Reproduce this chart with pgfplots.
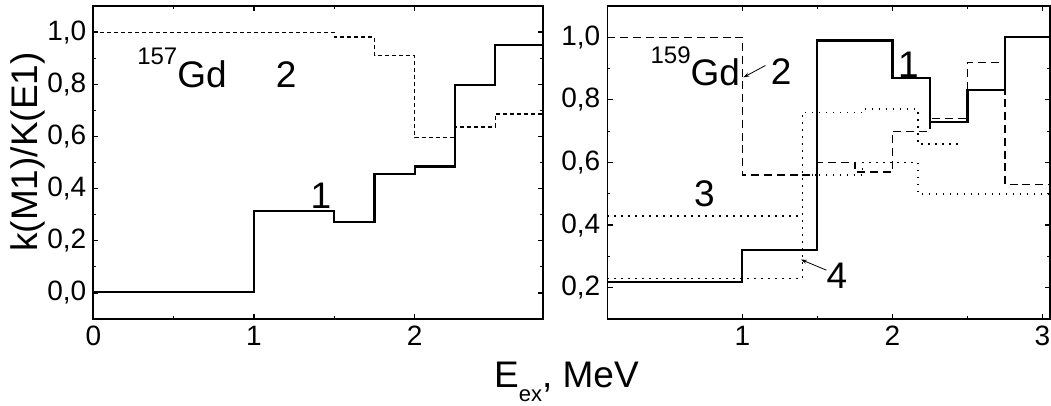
\documentclass[border=0pt]{standalone}
\usepackage{fontspec}
\setmainfont{Liberation Sans}
\usepackage{pgfplots}
\pgfplotsset{compat=1.18}
\usetikzlibrary{arrows.meta}

\newcommand{\tickfont}{\fontsize{14}{16}\selectfont}
\newcommand{\bigfont}{\fontsize{18.5}{21}\selectfont}

\pgfplotsset{
  gdpanel/.style={
    scale only axis,
    height=156.5pt,
    axis line style={line width=0.8pt},
    tick style={line width=0.6pt, black},
    major tick length=2.6pt,
    minor tick length=1.5pt,
    tick align=inside,
    minor x tick num=1,
    minor y tick num=1,
    ticklabel style={font=\tickfont},
    /pgf/number format/assume math mode=true,
    yticklabel style={/pgf/number format/.cd, fixed, fixed zerofill, precision=1, use comma},
    xticklabel style={/pgf/number format/.cd, fixed, precision=0},
  },
  solidstep/.style={const plot, black, line width=1.1pt},
}

\begin{document}
\begin{tikzpicture}
\path[use as bounding box] (-46.65pt,-43.5pt) rectangle (478.85pt,159.5pt);

% 157Gd
\begin{axis}[gdpanel,
    width=225pt,
    xmin=0, xmax=2.8,
    ymin=-0.1, ymax=1.1,
    xtick={0,1,2},
    ytick={0,0.2,0.4,0.6,0.8,1.0},
]
\addplot[solidstep] coordinates {
  (0,0.005) (1,0.313) (1.5,0.272) (1.75,0.455) (2,0.485) (2.25,0.798) (2.5,0.951) (2.8,0.951)
};
\addplot[const plot, black, line width=0.55pt, dash pattern=on 2pt off 1.5pt] coordinates {
  (0,1.0) (1.5,0.981) (1.75,0.909) (2,0.595) (2.25,0.636) (2.5,0.686) (2.8,0.686)
};
\node[anchor=base west, font=\bigfont, inner sep=0pt] at (axis cs:0.271,0.789)
  {\raisebox{0.6em}{\fontsize{12}{13}\selectfont 157}Gd};
\node[anchor=base, font=\bigfont, inner sep=0pt] at (axis cs:1.20,0.789) {2};
\node[anchor=base, font=\bigfont, inner sep=0pt] at (axis cs:1.417,0.323) {1};
\end{axis}

% 159Gd
\begin{axis}[gdpanel,
    at={(257pt,0pt)}, anchor=south west,
    width=221.35pt,
    xmin=0.1, xmax=3.05,
    ymin=0.1, ymax=1.1,
    xtick={1,2,3},
    ytick={0.2,0.4,0.6,0.8,1.0},
]
\addplot[solidstep] coordinates {
  (0.1,0.218) (1,0.32) (1.5,0.99) (2,0.87) (2.25,0.73) (2.5,0.831) (2.75,1.0) (3.05,1.0)
};
\addplot[const plot, black, line width=0.65pt, dash pattern=on 4pt off 2.4pt] coordinates {
  (0.1,1.0) (1,0.56) (1.5,0.60) (1.75,0.57) (2,0.70) (2.25,0.74) (2.5,0.92) (2.75,0.53) (3.05,0.53)
};
\addplot[const plot, black, line width=0.8pt, dash pattern=on 0.7pt off 2.8pt] coordinates {
  (0.1,0.43) (1.4,0.76) (1.8,0.77) (2.17,0.66) (2.45,0.66)
};
\addplot[const plot, black, line width=0.8pt, dash pattern=on 0.7pt off 2.8pt] coordinates {
  (0.1,0.229) (1.4,0.56) (1.8,0.60) (2.17,0.50) (3.05,0.50)
};
\node[anchor=base west, font=\bigfont, inner sep=0pt] at (axis cs:0.386,0.845)
  {\raisebox{0.6em}{\fontsize{12}{13}\selectfont 159}Gd};
\node[anchor=base west, font=\bigfont, inner sep=0pt] at (axis cs:1.187,0.848) {2};
\draw[-{Stealth[length=3pt,width=2pt]}, line width=0.4pt] (axis cs:1.154,0.910) -- (axis cs:1.007,0.872);
\node[anchor=base, font=\bigfont, inner sep=0pt] at (axis cs:2.106,0.872) {1};
\node[anchor=base, font=\bigfont, inner sep=0pt] at (axis cs:0.747,0.458) {3};
\node[anchor=base, font=\bigfont, inner sep=0pt] at (axis cs:1.63,0.197) {4};
\draw[-{Stealth[length=3pt,width=2pt]}, line width=0.4pt] (axis cs:1.56,0.256) -- (axis cs:1.39,0.290);
\end{axis}

\node[rotate=90, anchor=center, font=\bigfont] at (-32.9pt,83.5pt) {k(M1)/K(E1)};
\node[anchor=base, font=\fontsize{18.5}{21}\selectfont] at (236.6pt,-34.5pt)
  {E\raisebox{-7pt}{\fontsize{11}{12}\selectfont ex}, MeV};
\end{tikzpicture}
\end{document}
